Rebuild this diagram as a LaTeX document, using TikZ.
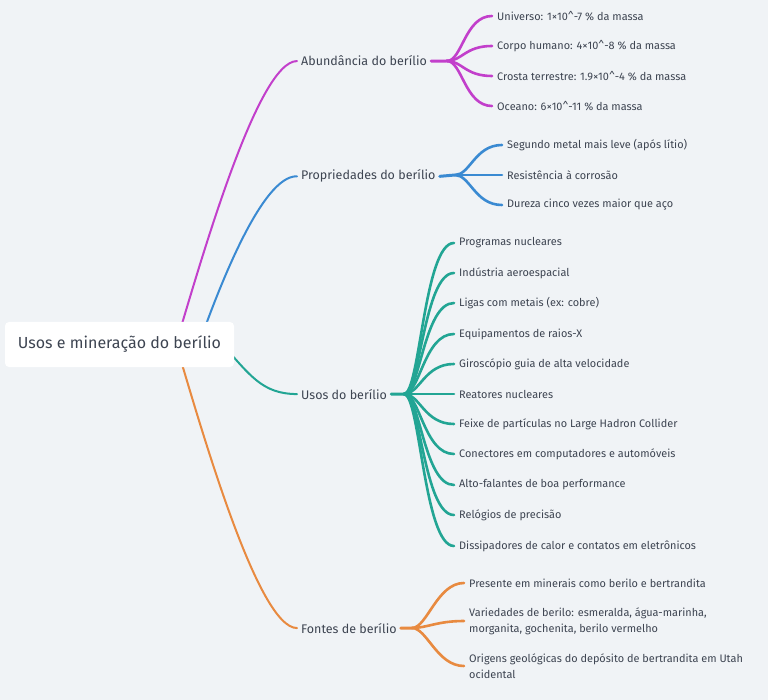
\documentclass[tikz,border=0pt]{standalone}
\usepackage{fontspec}
\setmainfont{Fira Sans}
\usetikzlibrary{calc}
\pgfdeclarelayer{back}
\pgfdeclarelayer{bg}
\pgfsetlayers{back,bg,main}
\definecolor{bgc}{HTML}{F0F3F6}
\definecolor{txt}{HTML}{3D4451}
\definecolor{cmag}{HTML}{C23FCB}
\definecolor{cblue}{HTML}{3A8AD2}
\definecolor{cteal}{HTML}{22A594}
\definecolor{corange}{HTML}{E88A40}
\tikzset{
  rootbox/.style={fill=white, rounded corners=4pt, minimum width=229pt, minimum height=45pt, inner sep=0pt, text=txt, font=\fontsize{16}{19}\selectfont},
  mainlbl/.style={anchor=base west, inner sep=0pt, text=txt, font=\fontsize{12.5}{16}\selectfont},
  leaf/.style={anchor=west, inner sep=0pt, text=txt, align=left, font=\fontsize{10.9}{16}\selectfont},
  mainline/.style={line width=2pt, line cap=round},
  subline/.style={line width=2.6pt, line cap=round},
  stubline/.style={line width=3pt, line cap=round},
}
\begin{document}
\begin{tikzpicture}[x=1pt,y=-1pt]
\begin{pgfonlayer}{back}
\fill[bgc] (0,0) rectangle (768,700);
\end{pgfonlayer}
\useasboundingbox (0,0) rectangle (768,700);

% root
\node[rootbox] (root) at (119.5,344.5) {Usos e mineração do berílio};

% main labels
\node[mainlbl] (abund) at (301,66) {Abundância do berílio};
\node[mainlbl] (prop) at (301,180) {Propriedades do berílio};
\node[mainlbl] (usos) at (301,399) {Usos do berílio};
\node[mainlbl] (fontes) at (301,633) {Fontes de berílio};

% fan origins
\coordinate (aF) at (447,61);
\coordinate (pF) at (455,175);
\coordinate (uF) at (404,394);
\coordinate (fF) at (412,628);

% leaves
\node[leaf] (a1) at (497,16) {Universo: 1×10\textasciicircum-7 \% da massa};
\node[leaf] (a2) at (497,46) {Corpo humano: 4×10\textasciicircum-8 \% da massa};
\node[leaf] (a3) at (497,76) {Crosta terrestre: 1.9×10\textasciicircum-4 \% da massa};
\node[leaf] (a4) at (497,106) {Oceano: 6×10\textasciicircum-11 \% da massa};

\node[leaf] (p1) at (507,145) {Segundo metal mais leve (após lítio)};
\node[leaf] (p2) at (507,175) {Resistência à corrosão};
\node[leaf] (p3) at (507,205) {Dureza cinco vezes maior que aço};

\node[leaf] (u1) at (459,243) {Programas nucleares};
\node[leaf] (u2) at (459,273) {Indústria aeroespacial};
\node[leaf] (u3) at (459,303) {Ligas com metais (ex: cobre)};
\node[leaf] (u4) at (459,334) {Equipamentos de raios-X};
\node[leaf] (u5) at (459,364) {Giroscópio guia de alta velocidade};
\node[leaf] (u6) at (459,394) {Reatores nucleares};
\node[leaf] (u7) at (459,424) {Feixe de partículas no Large Hadron Collider};
\node[leaf] (u8) at (459,454) {Conectores em computadores e automóveis};
\node[leaf] (u9) at (459,485) {Alto-falantes de boa performance};
\node[leaf] (u10) at (459,515) {Relógios de precisão};
\node[leaf] (u11) at (459,546) {Dissipadores de calor e contatos em eletrônicos};

\node[leaf] (f1) at (469,583) {Presente em minerais como berilo e bertrandita};
\node[leaf] (f2) at (469,621) {Variedades de berilo: esmeralda, água-marinha,\\morganita, gochenita, berilo vermelho};
\node[leaf] (f3) at (469,666) {Origens geológicas do depósito de bertrandita em Utah\\ocidental};

\begin{pgfonlayer}{bg}
% main connectors
\draw[mainline, cmag] ($(root.center)+(56.5,-0.5)$) .. controls (202,257) and (258,61) .. ($(abund.west)+(-4,0)$);
\draw[mainline, cblue] ($(root.center)+(79.5,-0.5)$) .. controls (218,290) and (262,175) .. ($(prop.west)+(-4,0)$);
\draw[mainline, cteal] ($(root.center)+(102.5,-0.5)$) .. controls (250,375) and (262,394) .. ($(usos.west)+(-4,0)$);
\draw[mainline, corange] ($(root.center)+(56.5,-0.5)$) .. controls (202,431) and (258,628) .. ($(fontes.west)+(-4,0)$);

% stubs
\draw[stubline, cmag] ($(abund.east)+(4,0)$) -- (aF);
\draw[stubline, cblue] ($(prop.east)+(4,0)$) -- (pF);
\draw[stubline, cteal] ($(usos.east)+(4,0)$) -- (uF);
\draw[stubline, corange] ($(fontes.east)+(4,0)$) -- (fF);

% fans
\foreach \n in {a1,a2,a3,a4}
  \draw[subline, cmag] (aF) .. controls +(15,0) and +(-27,0) .. ($(\n.west)+(-5,0)$);
\foreach \n in {p1,p2,p3}
  \draw[subline, cblue] (pF) .. controls +(15,0) and +(-27,0) .. ($(\n.west)+(-5,0)$);
\foreach \n in {u1,u2,u3,u4,u5,u6,u7,u8,u9,u10,u11}
  \draw[subline, cteal] (uF) .. controls +(16,0) and +(-30,0) .. ($(\n.west)+(-5,0)$);
\foreach \n in {f1,f2,f3}
  \draw[subline, corange] (fF) .. controls +(15,0) and +(-27,0) .. ($(\n.west)+(-5,0)$);
\end{pgfonlayer}
\end{tikzpicture}
\end{document}
